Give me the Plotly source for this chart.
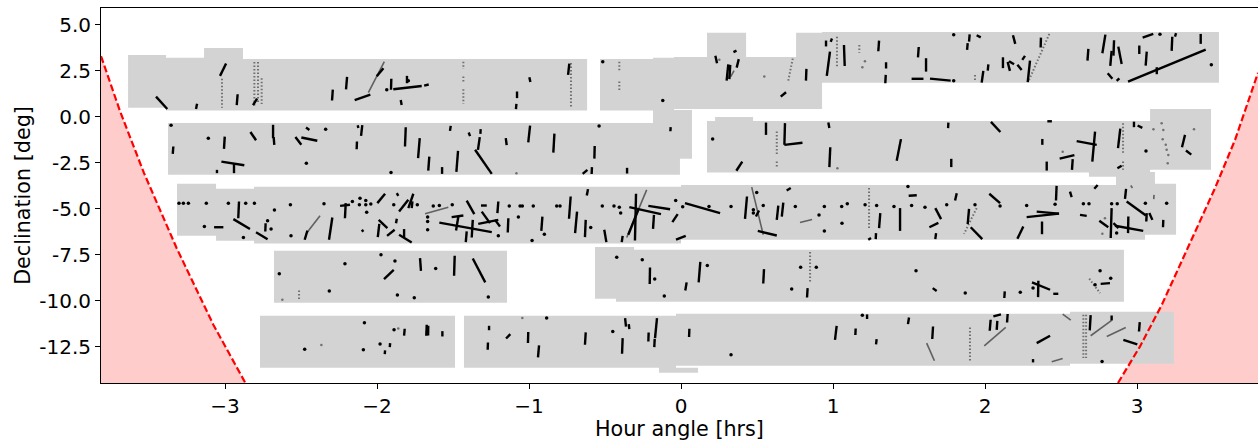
import plotly.graph_objects as go

X_RANGE = [-3.816, 3.796]
Y_RANGE = [-14.47, 5.92]
x_ticks = [-3, -2, -1, 0, 1, 2, 3]
y_ticks = [5.0, 2.5, 0.0, -2.5, -5.0, -7.5, -10.0, -12.5]
y_tick_labels = ["5.0", "2.5", "0.0", "-2.5", "-5.0", "-7.5", "-10.0", "-12.5"]

# footprint of the exposures: hour angle from/to, declination top/bottom
fields = [
 (-3.638,-3.388,3.37,.49),(-3.388,-3.138,3.21,.35),(-3.138,-2.882,3.75,.35),(-2.882,-.618,3.15,.34),
 (-.533,-.184,3.15,.34),(-.184,-.046,3.22,.38),(-.184,.072,.38,-2.28),(-.046,.171,3.26,.43),
 (.171,.428,4.57,.43),(.428,.757,3.26,.43),(.757,.928,4.57,.43),(.928,3.539,4.62,1.85),
 (-3.375,-.184,-.33,-3.15),(-.184,-.007,-2.28,-3.15),(.171,3.086,-.22,-3.03),(.224,.474,0,-3.0),
 (3.086,3.487,.43,-2.88),(2.684,3.118,-3,-3.26),(2.862,3.118,-3.26,-3.75),
 (-3.316,-3.059,-3.64,-6.47),(-3.059,-2.809,-3.91,-6.74),(-2.809,0,-3.8,-6.89),(0,3.053,-3.7,-6.68),(3.053,3.257,-3.64,-6.41),
 (-2.678,-1.145,-7.28,-10.11),(-.566,-.309,-7.07,-9.89),(-.428,2.914,-7.23,-10.05),
 (-2.77,-1.487,-10.82,-13.64),(-1.428,-.033,-10.82,-13.64),(-.145,.112,-13.64,-13.91),(-.033,2.559,-10.71,-13.53),(2.559,3.243,-10.6,-13.42),
]

limit_left_x = [-3.816,-3.811,-3.69,-3.533,-3.318,-3.077,-2.868,-2.85]
limit_left_y = [3.3,3.19,.29,-3.06,-7.14,-11.3,-14.44,-14.47]
limit_right_x = [2.875,2.877,3.02,3.163,3.338,3.513,3.645,3.792,3.796]
limit_right_y = [-14.47,-14.44,-12.48,-10.22,-7.05,-3.88,-1.25,2.28,2.4]

black_row1 = [
 (-3.454,1.10,-3.38,.43),(-3.184,.71,-3.191,.43),(-2.993,2.9,-3.033,2.23),(-2.917,1.23,-2.923,.64),(-2.789,.99,-2.816,.64),
 (-2.291,1.48,-2.296,.89),(-2.197,2.17,-2.204,1.5),(-2.044,1.21,-2.147,.91),(-1.958,2.65,-2.002,2.21),(-1.906,2.07,-1.908,1.47),
 (-1.893,1.5,-1.706,1.68),(-1.803,2.23,-1.803,1.83),(-1.844,.92,-1.838,.65),(-1.69,1.7,-1.66,1.76),(-.998,2.16,-.991,1.9),(-1.079,1.38,-1.079,1.02),
 (-1.083,.71,-1.086,.42),(-.735,2.9,-.743,2.28),(.226,3.32,.237,2.92),(.345,3.52,.365,3.6),(.38,3.14,.366,2.68),(.311,2.86,.3,1.97),(.324,2.83,.318,2.05),
 (.825,2.61,.822,1.97),(.691,1.34,.656,1.1),(.98,3.55,.959,2.23),(.954,4.15,.954,3.83),(.993,4.26,.985,4.08),(1.072,3.91,1.077,2.77),
 (1.303,4.15,1.298,3.57),(1.349,2.97,1.349,2.63),(1.347,2.28,1.344,1.83),(1.564,3.8,1.559,3.24),(1.612,3.19,1.612,2.46),
 (1.517,2.07,1.595,2.07),(1.638,2.08,1.774,1.97),(1.899,4.49,1.895,4.09),(1.886,4.01,1.882,3.64),(1.945,4.44,1.972,4.32),
 (2.184,4.44,2.199,3.97),(2.368,4.31,2.366,3.77),(2.296,3.06,2.281,1.89),(2.118,3.24,2.118,2.65),(2.149,2.99,2.164,2.5),(2.158,3.03,2.191,2.86),
 (2.213,2.83,2.241,2.55),(2.263,3.32,2.245,3.1),(2.022,2.86,2.018,2.52),(1.989,2.5,1.978,1.86),(2.68,3.7,2.674,3.06),(2.792,4.47,2.772,3.46),
 (2.849,4.17,2.845,3.33),(2.833,3.59,2.824,2.77),(2.877,3.82,2.899,2.88),(3.015,3.88,3.015,3.42),(3.064,3.55,3.057,2.79),(3.037,4.31,3.107,4.51),
 (3.257,4.55,3.25,4.36),(3.232,4.36,3.228,3.59),(3.419,4.51,3.419,3.97),(3.452,3.66,2.941,1.92),(3.13,2.7,3.13,2.32),(2.807,2.37,2.838,2.07),(2.866,1.96,2.884,2.1),
]
black_row2 = [
 (-3.34,-1.61,-3.344,-2.01),(-3.002,-1.07,-3.007,-1.74),(-2.833,-.82,-2.796,-1.27),(-2.684,-.43,-2.684,-1.16),(-2.68,-1.1,-2.676,-1.52),
 (-2.537,-1.09,-2.498,-1.52),(-2.498,-1.12,-2.393,-1.3),(-2.467,-.58,-2.445,-.71),(-2.127,-.45,-2.123,-.6),(-2.097,-.45,-2.105,-1.03),(-2.132,-1.34,-2.134,-1.76),
 (-3.024,-2.43,-2.873,-2.63),(-2.941,-2.55,-2.941,-3.06),(-3.053,-2.88,-3.053,-3.06),(-1.811,-.56,-1.816,-1.61),(-1.719,-1.16,-1.73,-2.24),
 (-1.656,-2.16,-1.663,-2.92),(-1.572,-2.73,-1.572,-3.1),(-1.467,-1.85,-1.478,-2.99),(-1.515,-.49,-1.52,-.76),(-1.397,-.85,-1.388,-1.05),(-1.318,-.67,-1.32,-.92),
 (-1.324,-1.1,-1.336,-1.79),(-1.355,-1.79,-1.245,-3.1),(-1.153,-1.16,-1.147,-1.54),(-.993,-.47,-1.005,-1.38),(-.833,-.91,-.84,-1.94),(-.568,-1.58,-.57,-2.27),
 (-.616,-2.88,-.647,-3.1),(-.586,-2.73,-.588,-3.11),(-.355,-2.77,-.355,-3.08),(-.068,-.56,-.07,-.78),
 (.559,-.31,.559,-.98),(.969,-.31,.976,-.61),(.684,-.34,.68,-1.52),(.68,-1.52,.799,-1.41),(.403,-2.43,.364,-2.93),(.982,-1.65,.976,-2.73),
 (1.447,-1.21,1.419,-2.39),(1.759,-.31,1.757,-.61),(2.039,-.27,2.101,-.82),(1.778,-2.28,1.778,-2.73),(2.41,-.24,2.44,-.24),(2.377,-1.2,2.377,-1.52),
 (2.406,-2.43,2.406,-2.92),(2.491,-2.27,2.588,-2.08),(2.577,-2.3,2.572,-2.88),(2.603,-1.32,2.735,-1.52),(2.724,-.8,2.706,-2.43),(2.871,-2.79,2.899,-2.66),
 (2.89,-.64,2.875,-1.7),(2.98,-.26,2.98,-.56),(3.004,-.47,3.035,-.6),(3.316,-.98,3.296,-1.65),(3.322,-1.83,3.357,-2.05),
]
black_row3 = [
 (-2.908,-4.6,-2.913,-5.51),(-2.206,-4.69,-2.211,-5.51),(-2.243,-4.84,-2.178,-4.78),(-3.072,-6.0,-3.011,-6.0),(-2.945,-5.56,-2.836,-6.1),(-2.796,-6.27,-2.72,-6.65),
 (-2.733,-5.78,-2.735,-6.23),(-2.458,-6.18,-2.476,-6.68),(-2.294,-5.47,-2.316,-6.68),(-2.1,-6.14,-2.09,-6.25),(-1.947,-4.18,-1.998,-4.69),(-1.87,-4.15,-1.86,-4.29),
 (-1.794,-4.51,-1.855,-5.15),(-1.761,-4.18,-1.794,-4.96),(-1.767,-4.6,-1.772,-4.96),(-1.87,-5.54,-1.875,-5.78),(-1.989,-5.6,-1.932,-6.05),(-1.985,-5.82,-1.995,-6.54),
 (-1.884,-6.14,-1.934,-6.47),(-1.822,-6.1,-1.822,-6.54),(-1.855,-6.41,-1.772,-6.83),(-1.59,-5.75,-1.245,-6.27),(-1.432,-5.36,-1.509,-5.45),(-1.465,-5.42,-1.48,-6.18),
 (-1.37,-5.6,-1.377,-6.56),(-1.41,-6.23,-1.416,-6.81),(-1.41,-4.55,-1.36,-5.29),(-1.311,-5.15,-1.257,-5.78),(-1.316,-4.82,-1.278,-4.82),(-1.334,-5.82,-1.202,-5.6),
 (-1.202,-4.6,-1.208,-5.23),(-1.224,-5.6,-1.191,-5.96),(-1.136,-5.51,-1.14,-6.29),(-.912,-5.42,-.919,-6.2),(-.726,-4.33,-.737,-5.54),(-.684,-5.15,-.697,-6.32),
 (-.627,-5.6,-.632,-6.54),(-.612,-3.93,-.62,-4.28),(-.505,-6.14,-.491,-6.81),(-.384,-6.47,-.39,-6.81),(-.296,-4.18,-.303,-6.72),(-.281,-5.05,-.347,-6.41),
 (-.34,-4.91,-.132,-5.29),(-.215,-4.84,-.072,-5.02),(-.178,-5.33,-.184,-6.09),(-.022,-5.29,-.057,-5.72),(.031,-6.47,-.033,-6.68),(.026,-4.69,.257,-5.23),
 (.434,-4.33,.421,-5.54),(.513,-5.09,.493,-5.42),(.505,-6.2,.63,-6.45),(.673,-4.66,.663,-5.42),(.64,-4.82,.63,-5.6),(.722,-3.87,.695,-4.0),(1.311,-5.23,1.303,-6.05),
 (1.283,-6.32,1.281,-6.65),(1.232,-6.68,1.25,-6.58),(1.441,-4.96,1.441,-6.2),(1.498,-4.29,1.551,-4.26),(1.673,-4.96,1.711,-5.56),(1.693,-5.76,1.634,-6.0),
 (1.678,-6.32,1.673,-6.65),(1.814,-4.15,1.803,-4.55),(1.895,-5.0,1.886,-5.83),(1.906,-6.0,1.982,-6.65),(2.028,-4.18,2.099,-4.69),(2.471,-3.75,2.467,-4.55),(2.559,-4.06,2.57,-4.36),
 (2.741,-3.7,2.719,-3.91),(2.274,-5.45,2.487,-5.26),(2.34,-5.15,2.487,-5.26),(2.375,-5.69,2.375,-6.38),(2.252,-5.96,2.213,-6.63),(2.625,-5.33,2.669,-5.38),
 (2.833,-4.96,2.827,-6.59),(2.752,-5.65,2.811,-6.0),(2.845,-5.78,2.878,-6.05),(2.855,-5.92,3.041,-6.2),(2.943,-5.42,2.941,-6.32),(2.928,-3.91,2.921,-4.46),
 (2.932,-4.6,3.059,-5.36),(3.064,-5.23,3.061,-5.69),(3.081,-5.23,3.101,-5.6),(3.173,-5.6,3.171,-6.0),
]
black_row4 = [
 (-1.89,-8.32,-1.954,-8.82),(-1.717,-7.68,-1.711,-8.37),(-1.489,-7.55,-1.493,-8.64),(-1.37,-7.7,-1.288,-9.0),(-.204,-8.19,-.206,-9.09),(.037,-9.0,.028,-9.44),
 (.127,-7.88,.116,-9.0),(.546,-8.28,.541,-9.06),(.833,-9.31,.829,-9.82),(1.656,-9.31,1.682,-9.47),(2.13,-9.49,2.127,-9.85),(2.309,-9.0,2.428,-9.4),(2.351,-8.91,2.349,-9.8),
 (2.449,-9.62,2.482,-9.62),(2.761,-9.08,2.822,-9.04),
]
black_row5 = [
 (-1.914,-12.3,-1.916,-12.52),(-1.947,-12.7,-1.949,-12.9),(-1.818,-11.52,-1.822,-11.89),(-1.673,-11.3,-1.676,-11.9),(-1.663,-11.36,-1.664,-11.89),(-1.57,-11.65,-1.57,-11.94),
 (-1.263,-11.36,-1.263,-11.6),(-1.27,-12.27,-1.272,-12.66),(-1.123,-11.81,-1.151,-12.05),(-1.005,-11.7,-1.007,-12.3),(-.934,-12.43,-.941,-13.08),(-.627,-11.72,-.632,-12.39),
 (-.368,-10.94,-.362,-11.4),(-.344,-11.27,-.34,-11.54),(-.384,-12.03,-.388,-12.88),(-.213,-11.72,-.215,-12.21),(-.158,-10.94,-.171,-12.03),(-.173,-12.07,-.176,-12.52),
 (.055,-11.52,.053,-11.97),(1.024,-11.36,1.013,-12.12),(1.149,-11.51,1.147,-11.86),(1.287,-12.08,1.283,-12.37),(1.224,-10.74,1.224,-10.99),(1.5,-10.91,1.493,-11.27),
 (1.658,-11.4,1.653,-12.08),(2.037,-11.03,2.031,-11.63),(2.081,-11.09,2.077,-11.58),(2.055,-10.85,2.105,-10.74),(2.149,-10.72,2.145,-11.18),(2.428,-11.9,2.34,-12.3),
 (2.316,-13.17,2.316,-13.35),(2.695,-10.78,2.689,-11.61),(2.833,-10.8,2.833,-11.07),(2.91,-12.12,3.002,-12.37),(3.018,-11.16,3.013,-11.67),
]
grey_streaks = [
 (-1.952,3.0,-2.057,1.32),(.349,2.52,.327,2.19),(-2.375,-5.38,-2.463,-6.32),(-1.684,-5.27,-1.531,-4.91),(-.226,-3.97,-.357,-6.56),(.465,-3.82,.541,-6.41),
 (.783,-5.74,.862,-5.58),(3.112,-4.24,3.11,-4.47),(2.959,-3.73,2.97,-3.87),(1.616,-12.3,1.667,-13.26),(2.136,-11.45,1.995,-12.45),(2.439,-13.32,2.511,-13.14),
 (2.511,-10.72,2.564,-11.05),(2.833,-11.07,2.695,-11.9),(2.926,-11.45,2.801,-11.94),
]
dotted_streaks = [
 (-3.02,2.07,-3.02,.49),(-2.807,2.99,-2.807,.54),(-2.783,2.99,-2.783,.7),(-2.759,2.1,-2.759,.7),(-1.432,3.0,-1.432,2.6),(-1.432,2.2,-1.432,1.9),(-1.432,1.5,-1.432,.72),
 (-.724,2.93,-.724,.54),(-.406,3.0,-.406,2.46),(-.406,1.92,-.406,1.38),(.735,3.17,.704,1.9),(1.026,4.36,1.026,2.66),(1.173,3.91,1.173,3.48),(1.934,2.28,1.934,1.92),
 (2.423,4.51,2.285,1.92),(.63,-.8,.63,-2.07),(.63,-2.43,.63,-2.77),(2.908,-.34,2.908,-1.97),(2.908,-2.43,2.908,-2.88),(1.237,-3.87,1.237,-6.14),(1.945,-4.96,1.862,-6.36),
 (-2.513,-9.44,-2.513,-9.91),(.849,-7.35,.849,-9.0),(2.686,-8.8,2.757,-9.58),(1.901,-11.45,1.901,-13.33),(2.647,-10.76,2.647,-13.11),(2.665,-10.76,2.665,-13.11),
]
black_dots_x = [-1.936,-1.794,3.489,1.794,3.151,-.515,-.12,1.794,-3.355,-3.11,-2.338,-2.465,-1.908,-.539,.208,3.059,
 -3.303,-3.274,-3.241,-3.123,-2.978,-2.864,-2.807,-2.57,-2.675,-2.349,-3.136,-2.72,-2.697,-2.879,-2.566,-2.162,-2.112,-2.116,-2.074,-2.074,-2.041,-2.068,-1.89,-1.735,
 -1.667,-1.667,-1.667,-1.63,-1.59,-1.505,-1.202,-1.13,-1.059,-1.044,-.972,-.818,-.796,-1.07,-.98,-.899,-.594,-.518,-.441,-.406,-.397,-.035,.011,.184,.329,
 .498,.476,.476,.541,.752,.943,1.057,1.094,.908,.943,1.059,1.211,1.287,1.401,1.493,1.517,1.605,1.748,1.934,2.099,2.274,2.461,2.647,2.684,2.833,2.87,3.055,3.195,2.866,
 -2.643,-2.314,-2.211,-1.974,-1.882,-1.866,-1.755,-1.614,-1.268,-.423,-.255,-.173,-.11,.173,.787,.89,.728,1.546,1.87,2.232,2.316,2.757,2.827,2.724,
 -2.476,-2.083,-2.09,-1.98,-1.888,-.884,-.449,.329,1.193,2.77]
black_dots_y = [1.47,1.97,2.84,1.97,4.49,3.0,.89,4.46,-.45,-1.16,-.67,-2.52,-3.03,-.49,-1.2,-1.85,
 -4.69,-4.69,-4.69,-4.69,-4.69,-4.69,-4.69,-4.78,-5.07,-4.73,-5.96,-5.65,-6.1,-6.56,-6.47,-4.6,-4.42,-4.78,-4.55,-4.78,-4.74,-5.18,-4.78,-4.78,
 -5.45,-5.69,-6.14,-4.84,-4.82,-4.78,-6.47,-4.84,-4.84,-4.84,-4.84,-4.84,-4.84,-5.45,-6.72,-6.38,-6.01,-4.84,-4.84,-4.91,-5.23,-4.55,-4.89,-4.87,-4.87,
 -4.11,-5.05,-5.23,-4.82,-4.87,-4.87,-4.87,-4.73,-5.34,-6.21,-5.78,-4.78,-4.82,-4.87,-3.79,-4.82,-4.91,-4.78,-4.78,-4.84,-4.82,-4.75,-4.73,-4.73,-4.73,-4.73,-4.69,-4.69,-6.32,
 -8.53,-9.47,-7.99,-7.5,-7.83,-9.69,-9.84,-8.24,-9.8,-7.63,-7.77,-8.82,-9.74,-8.08,-8.17,-8.17,-9.36,-8.37,-9.58,-9.53,-9.31,-8.37,-8.77,-9.13,
 -12.63,-11.2,-12.66,-12.35,-11.58,-10.94,-11.67,-12.93,-10.78,-13.3]
grey_dots_x = [.252,.548,1.21,1.193,1.029,-1.083,2.511,3.108,3.375,3.162,3.173,3.169,3.189,3.195,3.206,3.202,-2.623,-2.366,-1.86,-1.044,2.789,2.772]
grey_dots_y = [3.1,2.19,3.03,2.7,-2.79,-3.06,-1.89,-.67,-.67,-.34,-.71,-1.21,-1.52,-1.79,-2.07,-2.52,-9.95,-12.41,-11.5,-10.94,-5.51,-6.36]


def rect_path(rects):
    xs, ys = [], []
    for x0, x1, y0, y1 in rects:
        xs += [x0, x1, x1, x0, x0, None]
        ys += [y0, y0, y1, y1, y0, None]
    return xs, ys


def seg_path(segs):
    xs, ys = [], []
    for x0, y0, x1, y1 in segs:
        xs += [x0, x1, None]
        ys += [y0, y1, None]
    return xs, ys


fig = go.Figure()
common = dict(mode="lines", hoverinfo="skip", showlegend=False)
fig.add_trace(go.Scatter(x=[X_RANGE[0]] + limit_left_x + [X_RANGE[0]], y=[limit_left_y[0]] + limit_left_y + [Y_RANGE[0]],
                         fill="toself", fillcolor="#ffcccc", line=dict(width=0), **common))
fig.add_trace(go.Scatter(x=limit_right_x + [X_RANGE[1], limit_right_x[0]], y=limit_right_y + [Y_RANGE[0], Y_RANGE[0]],
                         fill="toself", fillcolor="#ffcccc", line=dict(width=0), **common))
fx, fy = rect_path(fields)
fig.add_trace(go.Scatter(x=fx, y=fy, fill="toself", fillcolor="#d3d3d3", line=dict(width=0), **common))
for lx, ly in ((limit_left_x, limit_left_y), (limit_right_x, limit_right_y)):
    fig.add_trace(go.Scatter(x=lx, y=ly, line=dict(color="#ff0000", width=2.2, dash="7px,3px"), **common))
dx, dy = seg_path(dotted_streaks)
fig.add_trace(go.Scatter(x=dx, y=dy, line=dict(color="#707070", width=2, dash="1.5px,2px"), **common))
gx, gy = seg_path(grey_streaks)
fig.add_trace(go.Scatter(x=gx, y=gy, line=dict(color="#606060", width=1.6), **common))
bx, by = seg_path(black_row1 + black_row2 + black_row3 + black_row4 + black_row5)
fig.add_trace(go.Scatter(x=bx, y=by, line=dict(color="#000000", width=2.4), **common))
fig.add_trace(go.Scatter(x=grey_dots_x, y=grey_dots_y, mode="markers", marker=dict(color="#707070", size=2.5),
                         hoverinfo="skip", showlegend=False))
fig.add_trace(go.Scatter(x=black_dots_x, y=black_dots_y, mode="markers", marker=dict(color="#000000", size=3.5),
                         hoverinfo="skip", showlegend=False))

axis = dict(showgrid=False, zeroline=False, showline=True, linecolor="#000000", linewidth=1, mirror=True,
            ticks="outside", ticklen=5, tickwidth=1, tickcolor="#000000",
            tickfont=dict(family="DejaVu Sans", size=20, color="#000000"))
title_font = dict(family="DejaVu Sans", size=20.7, color="#000000")
fig.update_xaxes(range=X_RANGE, tickvals=x_ticks, tickformat="d",
                 title=dict(text="Hour angle [hrs]", font=title_font, standoff=2), **axis)
fig.update_yaxes(range=Y_RANGE, tickvals=y_ticks, ticktext=y_tick_labels,
                 title=dict(text="Declination [deg]", font=title_font, standoff=3), **axis)
fig.update_layout(width=1258, height=441, margin=dict(l=101, r=0, t=8, b=58), paper_bgcolor="#ffffff", plot_bgcolor="#ffffff")
fig.write_html("out.html", config=dict(displayModeBar=False), default_width="1258px", default_height="441px",
               post_script="document.body.style.margin='0';document.documentElement.style.overflow='hidden';")
